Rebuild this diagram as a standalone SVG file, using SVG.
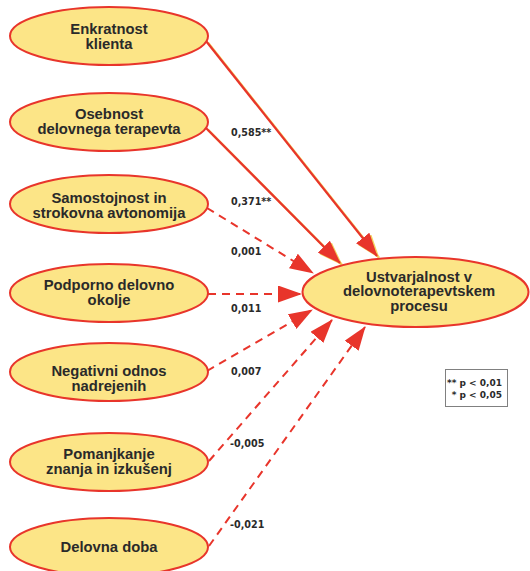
<svg xmlns="http://www.w3.org/2000/svg" width="530" height="571" viewBox="0 0 530 571">
  <style>
    .node ellipse { fill: #fce587; stroke: #e8352b; stroke-width: 2; }
    .node text { font-family: "Liberation Sans", Arial, sans-serif; font-weight: bold; font-size: 14.8px; fill: #2a2a2a; text-anchor: middle; }
    .edge { fill: none; stroke: #e8352b; stroke-width: 2.2; }
    .edge.dash { stroke-dasharray: 8 6; stroke-width: 2; }
    .shadow { fill: none; stroke: #f3d35f; stroke-width: 2.4; }
    .coef { font-family: "DejaVu Sans", Verdana, sans-serif; font-weight: bold; font-size: 9.6px; fill: #2a2a2a; }
    .legend rect { fill: #ffffff; stroke: #808080; stroke-width: 1; }
    .legend text { font-family: "DejaVu Sans", Verdana, sans-serif; font-weight: bold; font-size: 9px; fill: #2a2a2a; text-anchor: end; }
  </style>
  <defs>
    <marker id="head" markerUnits="userSpaceOnUse" viewBox="0 0 24 17" markerWidth="24" markerHeight="17" refX="23" refY="8.5" orient="auto">
      <path d="M0,0 L24,8.5 L0,17 z" fill="#e8352b"/>
    </marker>
    <marker id="head-shadow" markerUnits="userSpaceOnUse" viewBox="0 0 24 17" markerWidth="24" markerHeight="17" refX="23" refY="8.5" orient="auto">
      <path d="M0,0 L24,8.5 L0,17 z" fill="#f3d35f"/>
    </marker>
  </defs>

  <!-- connectors -->
  <g id="connectors">
    <!-- significant paths: solid with a yellow drop shadow -->
    <g transform="translate(2,1.8)">
      <path class="shadow" d="M206,41 L377,256" marker-end="url(#head-shadow)"/>
      <path class="shadow" d="M206,128 L340,263" marker-end="url(#head-shadow)"/>
    </g>
    <path class="edge" d="M206,41 L377,256" marker-end="url(#head)"/>
    <path class="edge" d="M206,128 L340,263" marker-end="url(#head)"/>
    <!-- non-significant paths: dashed -->
    <path class="edge dash" d="M207,208 L313,273" marker-end="url(#head)"/>
    <path class="edge dash" d="M208,294 L301,294" marker-end="url(#head)"/>
    <path class="edge dash" d="M207,371 L312,310" marker-end="url(#head)"/>
    <path class="edge dash" d="M209,461 L332,320" marker-end="url(#head)"/>
    <path class="edge dash" d="M209,546 L365,327" marker-end="url(#head)"/>

    <text class="coef" x="231" y="136">0,585**</text>
    <text class="coef" x="231" y="205">0,371**</text>
    <text class="coef" x="231" y="255">0,001</text>
    <text class="coef" x="231" y="312">0,011</text>
    <text class="coef" x="231" y="375">0,007</text>
    <text class="coef" x="230" y="447">-0,005</text>
    <text class="coef" x="230" y="528">-0,021</text>
  </g>

  <!-- predictor nodes -->
  <g id="enkratnost" class="node">
    <ellipse cx="109" cy="36" rx="99" ry="29"/>
    <text x="109" y="33.5">Enkratnost</text>
    <text x="109" y="48.5">klienta</text>
  </g>
  <g id="osebnost" class="node">
    <ellipse cx="109" cy="122" rx="99" ry="29"/>
    <text x="109" y="118.5">Osebnost</text>
    <text x="109" y="133.5">delovnega terapevta</text>
  </g>
  <g id="samostojnost" class="node">
    <ellipse cx="109" cy="204" rx="99" ry="29"/>
    <text x="109" y="202.5">Samostojnost in</text>
    <text x="109" y="217.5">strokovna avtonomija</text>
  </g>
  <g id="podporno" class="node">
    <ellipse cx="109" cy="293" rx="99" ry="29"/>
    <text x="109" y="290">Podporno delovno</text>
    <text x="109" y="305">okolje</text>
  </g>
  <g id="negativni" class="node">
    <ellipse cx="109" cy="372" rx="99" ry="29"/>
    <text x="109" y="375.5">Negativni odnos</text>
    <text x="109" y="390.5">nadrejenih</text>
  </g>
  <g id="pomanjkanje" class="node">
    <ellipse cx="109" cy="462" rx="99" ry="29"/>
    <text x="109" y="459">Pomanjkanje</text>
    <text x="109" y="474">znanja in izkušenj</text>
  </g>
  <g id="delovna-doba" class="node">
    <ellipse cx="109" cy="547" rx="99" ry="29"/>
    <text x="109" y="551.5">Delovna doba</text>
  </g>

  <!-- outcome node -->
  <g id="ustvarjalnost" class="node">
    <ellipse cx="415.5" cy="292" rx="113" ry="35"/>
    <text x="419" y="281.5">Ustvarjalnost v</text>
    <text x="419" y="296">delovnoterapevtskem</text>
    <text x="419" y="310.5">procesu</text>
  </g>

  <!-- significance legend -->
  <g id="legend" class="legend">
    <rect x="445.5" y="369.5" width="62" height="37"/>
    <text x="502" y="386">** p &lt; 0,01</text>
    <text x="502" y="398">* p &lt; 0,05</text>
  </g>
</svg>
